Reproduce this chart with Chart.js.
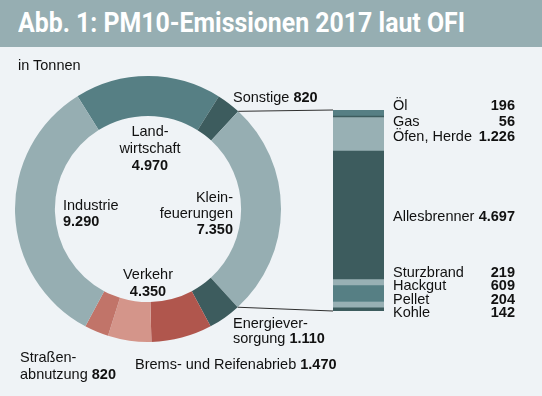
<!DOCTYPE html>
<html>
<head>
<meta charset="utf-8">
<script src="https://cdn.jsdelivr.net/npm/chart.js@4.4.1/dist/chart.umd.min.js"></script>
<style>
  body { margin: 0; width: 542px; height: 396px; background: #eff3f6; overflow: hidden;
         font-family: "Liberation Sans", Arial, sans-serif; font-size: 14.5px; color: #111; }
  #head { position: absolute; left: 0; top: 0; width: 542px; height: 47px; background: #96aeb2; }
  #head span { position: absolute; left: 18px; top: 7px; color: #fff; font: bold 27px Roboto, sans-serif;
               white-space: nowrap; transform-origin: 0 0; }
  .lb { position: absolute; white-space: nowrap; line-height: 16px; }
  .lb b { font-weight: bold; }
  canvas { position: absolute; }
  #ring { left: 15px; top: 76px; }
  #bar { left: 333px; top: 110px; }
  #lines { left: 0; top: 0; }
  .tbl { position: absolute; left: 393px; width: 122px; }
  .tbl div { display: flex; justify-content: space-between; }
</style>
</head>
<body>
<div id="head"><span id="title">Abb. 1: PM10-Emissionen 2017 laut OFI</span></div>

<canvas id="ring" width="266" height="266"></canvas>
<canvas id="lines" width="542" height="396"></canvas>
<canvas id="bar" width="51" height="201"></canvas>

<div class="lb" style="left:18px;top:57px">in Tonnen</div>
<div class="lb" style="left:110px;top:123px;width:80px;text-align:center;line-height:17px">Land-<br>wirtschaft<br><b>4.970</b></div>
<div class="lb" style="left:63px;top:197px">Industrie<br><b>9.290</b></div>
<div class="lb" style="left:153px;top:189px;width:80px;text-align:right">Klein-<br>feuerungen<br><b>7.350</b></div>
<div class="lb" style="left:108px;top:266px;width:80px;text-align:center;line-height:17px">Verkehr<br><b>4.350</b></div>
<div class="lb" style="left:20px;top:349px;line-height:17px">Straßen-<br>abnutzung <b>820</b></div>
<div class="lb" style="left:135px;top:356px">Brems- und Reifenabrieb <b>1.470</b></div>
<div class="lb" style="left:233px;top:316px;line-height:15px">Energiever-<br>sorgung <b>1.110</b></div>
<div class="lb" style="left:233px;top:89px">Sonstige <b>820</b></div>

<div class="tbl lb" style="top:98px;line-height:15.5px">
  <div><span>Öl</span><b>196</b></div>
  <div><span>Gas</span><b>56</b></div>
  <div><span>Öfen, Herde</span><b>1.226</b></div>
</div>
<div class="tbl lb" style="top:208px"><div><span>Allesbrenner</span><b>4.697</b></div></div>
<div class="tbl lb" style="top:266px;line-height:13.4px">
  <div><span>Sturzbrand</span><b>219</b></div>
  <div><span>Hackgut</span><b>609</b></div>
  <div><span>Pellet</span><b>204</b></div>
  <div><span>Kohle</span><b>142</b></div>
</div>

<script>
// PM10-Emissionen 2017 in Tonnen
var ringLabels = ['Landwirtschaft', 'Sonstige', 'Kleinfeuerungen', 'Energieversorgung',
                  'Verkehr (Abgas)', 'Brems- und Reifenabrieb', 'Straßenabnutzung', 'Industrie'];
var ringValues = [4970, 820, 7350, 1110, 2060, 1470, 820, 9290];
var ringColors = ['#567f84', '#3d5c5e', '#96aeb2', '#3d5c5e', '#b0564d', '#d4958a', '#c17469', '#96aeb2'];

// Kleinfeuerungen aufgeteilt
var kleinLabels = ['Öl', 'Gas', 'Öfen, Herde', 'Allesbrenner', 'Sturzbrand', 'Hackgut', 'Pellet', 'Kohle'];
var kleinValues = [196, 56, 1226, 4697, 219, 609, 204, 142];
var kleinColors = ['#567f84', '#3d5c5e', '#98b0b4', '#3d5c5e', '#98b0b4', '#567f84', '#98b0b4', '#3d5c5e'];

// titel auf die breite der vorlage bringen
var t = document.getElementById('title');
t.style.transform = 'scaleX(' + (447 / t.getBoundingClientRect().width) + ')';

var ring = new Chart(document.getElementById('ring'), {
  type: 'doughnut',
  data: {
    labels: ringLabels,
    datasets: [{ data: ringValues, backgroundColor: ringColors, borderWidth: 0, hoverOffset: 0 }]
  },
  options: {
    responsive: false, animation: false, devicePixelRatio: 1,
    rotation: -32, cutout: '70%',
    plugins: { legend: { display: false }, tooltip: { enabled: false } },
    layout: { padding: 0 }
  }
});

var bar = new Chart(document.getElementById('bar'), {
  type: 'bar',
  data: {
    labels: ['Kleinfeuerungen'],
    datasets: kleinLabels.map(function(l, i) {
      return { label: l, data: [kleinValues[i]], backgroundColor: kleinColors[i], borderWidth: 0,
               barPercentage: 1, categoryPercentage: 1 };
    })
  },
  options: {
    responsive: false, animation: false, devicePixelRatio: 1,
    plugins: { legend: { display: false }, tooltip: { enabled: false } },
    layout: { padding: 0 },
    scales: {
      x: { stacked: true, display: false },
      y: { stacked: true, display: false, reverse: true, min: 0,
           max: kleinValues.reduce(function(a, b) { return a + b; }, 0) }
    }
  }
});

// verbindungslinien vom ring-segment zum balken
var arc = ring.getDatasetMeta(0).data[2];
var ro = document.getElementById('ring').getBoundingClientRect();
var bo = document.getElementById('bar').getBoundingClientRect();
var ys = bar.scales.y;
var bx = bo.left + bar.chartArea.left;
var ctx = document.getElementById('lines').getContext('2d');
ctx.strokeStyle = '#2f2f2f';
ctx.lineWidth = 1;
[[arc.startAngle, ys.getPixelForValue(0)], [arc.endAngle, ys.getPixelForValue(ys.max)]].forEach(function(p) {
  ctx.beginPath();
  ctx.moveTo(ro.left + arc.x + Math.cos(p[0]) * arc.outerRadius, ro.top + arc.y + Math.sin(p[0]) * arc.outerRadius);
  ctx.lineTo(bx, bo.top + p[1]);
  ctx.stroke();
});
</script>
</body>
</html>
